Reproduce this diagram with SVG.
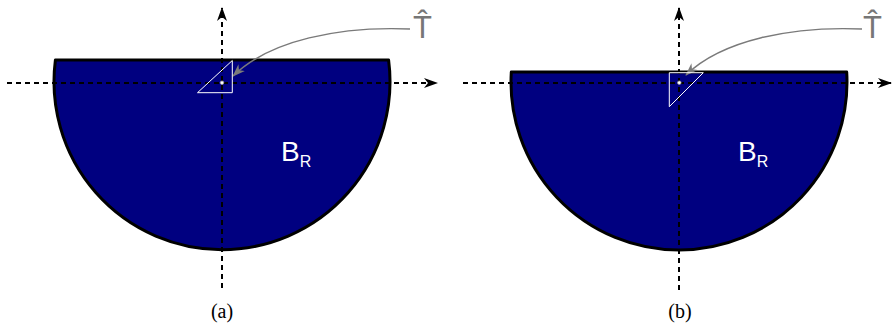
<svg xmlns="http://www.w3.org/2000/svg" width="892" height="328" viewBox="0 0 892 328">
<defs>
<style>
.body{fill:#000080;stroke:#000;stroke-width:3;stroke-linejoin:round}
.axis{fill:none;stroke:#000;stroke-width:2;stroke-dasharray:5 4}
.tri{fill:none;stroke:#fff;stroke-width:1}
.dot{fill:#fff;stroke:#999;stroke-width:0.7}
.ptr{fill:none;stroke:#7a7a7a;stroke-width:1.4}
.lbl{font-family:"Liberation Sans",Arial,sans-serif;fill:#fff}
.that{font-family:"Liberation Sans",Arial,sans-serif;fill:#777;font-size:31px}
.cap{font-family:"Liberation Serif","Times New Roman",serif;font-size:20px;fill:#000;text-anchor:middle}
</style>
<marker id="ah" viewBox="0 0 14 10" refX="13" refY="5" markerWidth="14" markerHeight="10" markerUnits="userSpaceOnUse" orient="auto">
<path d="M0,0 L14,5 L0,10 L4,5 Z" fill="#000"/>
</marker>
<marker id="gh" viewBox="0 0 14 10" refX="13" refY="5" markerWidth="13" markerHeight="10" markerUnits="userSpaceOnUse" orient="auto">
<path d="M0,0 L14,5 L0,10 L4,5 Z" fill="#7a7a7a"/>
</marker>
</defs>
<g id="body-a">
<path class="body" d="M55.4,60 L388.6,60 A168,168 0 1 1 55.4,60 Z"/>
<text class="lbl" x="281" y="161" font-size="28">B<tspan font-size="16" dy="6">R</tspan></text>
</g>
<g id="body-b">
<path class="body" d="M511.3,72 L846.7,72 A168,168 0 1 1 511.3,72 Z"/>
<text class="lbl" x="738" y="161" font-size="28">B<tspan font-size="16" dy="6">R</tspan></text>
</g>
<g id="connectors">
<line class="axis" x1="222" y1="288" x2="222" y2="8" marker-end="url(#ah)"/>
<line class="axis" x1="7" y1="83" x2="437" y2="83" marker-end="url(#ah)"/>
<line class="axis" x1="679" y1="290" x2="679" y2="8" marker-end="url(#ah)"/>
<line class="axis" x1="463" y1="83" x2="891" y2="83" marker-end="url(#ah)"/>
<path class="ptr" d="M410,29 C340,26 270,40 233,76" marker-end="url(#gh)"/>
<path class="ptr" d="M862,29 C792,26 722,40 686,75" marker-end="url(#gh)"/>
</g>
<g id="triangle-a">
<polygon class="tri" points="197.5,92.7 232.3,60.5 232.3,92.7"/>
<circle class="dot" cx="222" cy="82.7" r="1.8"/>
</g>
<g id="triangle-b">
<polygon class="tri" points="669.3,72.7 703.3,72.7 669.3,106.7"/>
<circle class="dot" cx="679.3" cy="82.7" r="1.8"/>
</g>
<g id="label-T-a"><text class="that" x="413" y="38">T̂</text></g>
<g id="label-T-b"><text class="that" x="863" y="38">T̂</text></g>
<g id="caption-a"><text class="cap" x="222" y="318">(a)</text></g>
<g id="caption-b"><text class="cap" x="680" y="318">(b)</text></g>
</svg>
